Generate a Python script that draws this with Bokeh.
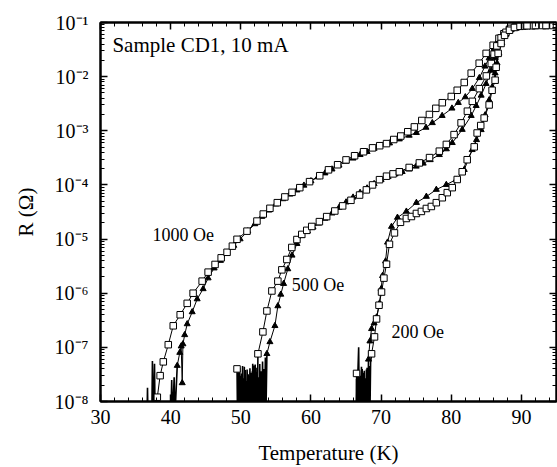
from bokeh.plotting import figure
from bokeh.models import (LogAxis, LinearAxis, SingleIntervalTicker, FixedTicker,
                          CustomJSTickFormatter, Label, Range1d)
from bokeh.embed import file_html
from bokeh.resources import INLINE

# ---------------- data ----------------
# 1000 Oe, open squares
t1000_sq = [36.6, 36.7, 36.8, 37.3, 37.4, 37.5, 37.7, 37.8, 38.1, 38.5, 38.95, 39.66,
            40.37, 41.36, 42.36, 43.2, 44.49, 45.34, 46.33, 47.2, 48.04, 48.8, 49.46,
            50.88, 52.3, 53.2, 54.15, 55.2, 56.28, 57.3, 58.41, 59.8, 61.25, 62.5, 63.8,
            65.0, 66.22, 67.5, 68.78, 69.8, 70.77, 71.8, 72.8, 73.8, 74.74, 75.8, 76.88,
            77.8, 78.72, 80.0, 80.85, 81.85, 82.84, 83.98, 84.97, 85.97, 86.8, 87.5,
            88.3, 89.2, 90.5, 92.0, 93.5, 95.0]
r1000_sq = [3e-9, 1.8e-8, 3e-9, 3e-9, 5.6e-8, 4e-9, 5e-8, 3e-9, 1.2e-8, 3e-8, 5.4e-8, 1.12e-7,
            2.5e-7, 4e-7, 6.5e-7, 1.0e-6, 1.67e-6, 2.45e-6, 3.4e-6, 4.5e-6, 5.7e-6, 7.4e-6, 9.9e-6,
            1.4e-5, 2.15e-5, 2.9e-5, 3.7e-5, 4.7e-5, 6.0e-5, 7.3e-5, 8.9e-5, 1.15e-4, 1.48e-4,
            1.9e-4, 2.36e-4, 2.9e-4, 3.46e-4, 4.1e-4, 4.84e-4, 5.3e-4, 5.8e-4, 6.9e-4, 8.0e-4,
            9.6e-4, 1.18e-3, 1.55e-3, 2.0e-3, 2.6e-3, 3.3e-3, 4.3e-3, 5.6e-3, 7.8e-3, 1.16e-2,
            1.77e-2, 2.69e-2, 3.8e-2, 5.1e-2, 6.2e-2, 7.5e-2, 8.3e-2, 8.7e-2, 8.8e-2, 8.8e-2, 8.8e-2]

# 1000 Oe, filled triangles
t1000_tri = [40.0, 40.15, 40.3, 40.37, 40.5, 40.6, 40.94, 41.3, 41.5, 41.65, 41.75, 42.0,
             42.36, 43.07, 43.78, 44.63, 45.34, 46.2, 47.1, 48.0, 49.0, 49.9, 51.0, 52.0,
             53.0, 54.0, 55.0, 56.0, 57.0, 58.0, 59.0, 60.0, 61.0, 62.0, 63.0, 64.0, 65.0,
             66.0, 67.0, 68.0, 69.0, 69.77, 71.2, 72.6, 74.0, 75.03, 76.4, 77.3, 78.7, 80.1,
             81.0, 82.0, 83.0, 84.0, 84.8, 85.4, 86.1, 86.6, 87.2, 88.0, 88.6, 89.4, 90.3,
             91.5, 93.0, 94.5]
r1000_tri = [3e-9, 2.5e-8, 3e-9, 1.0e-8, 2.8e-8, 5e-9, 4.6e-8, 8e-8, 1.05e-7, 2.2e-8, 1.15e-7,
             1.7e-7, 2.7e-7, 4.5e-7, 7.8e-7, 1.2e-6, 1.9e-6, 2.9e-6, 4.0e-6, 5.4e-6, 7.6e-6,
             1.0e-5, 1.4e-5, 1.9e-5, 2.6e-5, 3.4e-5, 4.4e-5, 5.5e-5, 6.7e-5, 8.0e-5, 9.8e-5,
             1.18e-4, 1.4e-4, 1.65e-4, 1.95e-4, 2.3e-4, 2.7e-4, 3.1e-4, 3.6e-4, 4.1e-4, 4.7e-4,
             5.2e-4, 5.9e-4, 7.0e-4, 8.2e-4, 9.2e-4, 1.15e-3, 1.4e-3, 1.9e-3, 2.6e-3, 3.3e-3,
             4.2e-3, 6.0e-3, 9.5e-3, 1.55e-2, 2.2e-2, 3.3e-2, 4.5e-2, 5.6e-2, 7.0e-2, 7.9e-2,
             8.4e-2, 8.6e-2, 8.7e-2, 8.7e-2, 8.7e-2]

# 500 Oe, open squares
t500_sq = [49.46, 49.55, 49.65, 49.75, 49.85, 49.95, 50.05, 50.15, 50.25, 50.35, 50.45, 50.55,
           50.65, 50.75, 50.85, 50.95, 51.05, 51.15, 51.25, 51.35, 51.45, 51.55, 51.65, 51.75,
           51.85, 51.95, 52.05, 52.15, 52.25, 52.35,
           52.44, 53.15, 53.72, 54.43, 55.28, 55.85, 56.56, 57.27, 58.0, 58.69, 59.4, 60.11,
           61.2, 62.24, 63.4, 64.52, 65.7, 66.93, 67.9, 68.78, 69.77, 70.77, 71.7, 72.6, 74.0,
           75.45, 76.9, 78.3, 79.3, 80.4, 81.4, 82.3, 83.0, 84.0, 85.0, 85.7, 86.1, 86.5, 87.1,
           87.8, 88.5, 89.3, 90.2, 91.5, 93.0, 94.5]
r500_sq = [4.0e-8, 3e-9, 3.5e-8, 4e-9, 4.2e-8, 3e-9, 3.0e-8, 5e-9, 4.5e-8, 3e-9, 2.6e-8, 4e-9,
           3.8e-8, 3e-9, 2.2e-8, 5e-9, 3.2e-8, 3e-9, 1.8e-8, 4e-9, 2.8e-8, 3e-9, 3.6e-8, 4e-9,
           2.5e-8, 3e-9, 4.8e-8, 5e-9, 3.0e-8, 6e-9,
           7.6e-8, 1.93e-7, 4.7e-7, 1.1e-6, 1.67e-6, 2.7e-6, 4.2e-6, 7.0e-6, 9.8e-6, 1.22e-5,
           1.45e-5, 1.71e-5, 2.1e-5, 2.6e-5, 3.3e-5, 4.1e-5, 5.2e-5, 6.5e-5, 8.1e-5, 1.0e-4,
           1.25e-4, 1.45e-4, 1.6e-4, 1.75e-4, 2.1e-4, 2.55e-4, 3.2e-4, 4.2e-4, 5.6e-4, 8.5e-4,
           1.4e-3, 2.3e-3, 3.5e-3, 6.0e-3, 1.03e-2, 1.75e-2, 2.6e-2, 3.7e-2, 5.2e-2, 6.6e-2,
           7.8e-2, 8.4e-2, 8.6e-2, 8.7e-2, 8.8e-2, 8.8e-2]

# 500 Oe, filled triangles
t500_tri = [50.0, 50.1, 50.2, 50.3, 50.4, 50.5, 50.6, 50.7, 50.8, 50.9, 51.0, 51.1, 51.2, 51.3,
            51.4, 51.5, 51.6, 51.7, 51.8, 51.9, 52.0, 52.1, 52.2, 52.3, 52.4, 52.5, 52.6, 52.7,
            52.8, 52.9, 53.0, 53.1, 53.2, 53.3, 53.4, 53.5, 53.6,
            53.72, 54.15, 54.86, 55.28, 55.7, 56.1, 56.7, 57.3, 58.0, 58.7, 59.5, 60.3, 61.1,
            62.0, 63.0, 64.0, 65.0, 66.0, 67.0, 68.0, 69.0, 70.0, 71.0, 72.0, 73.0, 74.0, 75.0,
            76.0, 77.0, 78.3, 79.3, 80.14, 81.56, 82.84, 83.55, 84.26, 84.97, 85.68, 86.25,
            86.53, 87.0, 87.6, 88.3, 89.0, 89.8, 90.8, 92.0, 93.5, 95.0]
r500_tri = [3e-9, 3.3e-8, 4e-9, 2.7e-8, 3e-9, 4.4e-8, 4e-9, 2.4e-8, 3e-9, 3.9e-8, 5e-9, 2.9e-8,
            3e-9, 4.1e-8, 4e-9, 3.4e-8, 3e-9, 5.0e-8, 4e-9, 4.6e-8, 6e-9, 3.5e-8, 5e-9, 4.2e-8,
            3e-9, 2.8e-8, 4e-9, 4.9e-8, 5e-9, 3.6e-8, 4e-9, 5.5e-8, 5e-9, 4.0e-8, 6e-9, 6.5e-8, 8e-9,
            7.6e-8, 1.26e-7, 2.5e-7, 5.8e-7, 9.5e-7, 1.5e-6, 2.8e-6, 5.0e-6, 8.2e-6, 1.15e-5,
            1.4e-5, 1.65e-5, 1.95e-5, 2.4e-5, 3.0e-5, 3.8e-5, 4.8e-5, 5.9e-5, 7.2e-5, 8.7e-5,
            1.05e-4, 1.25e-4, 1.42e-4, 1.58e-4, 1.75e-4, 1.95e-4, 2.2e-4, 2.5e-4, 2.9e-4, 3.6e-4,
            4.6e-4, 6.0e-4, 1.05e-3, 1.9e-3, 2.9e-3, 4.5e-3, 7.4e-3, 1.3e-2, 2.2e-2, 3.0e-2,
            4.4e-2, 5.9e-2, 7.3e-2, 8.0e-2, 8.5e-2, 8.6e-2, 8.7e-2, 8.7e-2, 8.7e-2]

# 200 Oe, open squares
t200_sq = [66.5, 66.6, 66.7, 66.8, 66.9, 67.0, 67.1, 67.2, 67.3, 67.4, 67.5, 67.6, 67.7, 67.8,
           67.9, 68.0, 68.1, 68.2, 68.3, 68.4, 68.5,
           68.64, 69.06, 69.35, 69.7, 70.06, 70.4, 70.77, 71.19, 71.9, 72.76, 73.6,
           74.32, 75.03, 75.74, 76.45, 77.16, 77.87, 78.72, 79.43, 80.14, 80.85, 81.56, 82.27,
           83.27, 83.69, 84.2, 84.69, 85.4, 85.82, 86.25, 86.4, 86.68, 87.1, 87.6, 88.3, 89.0,
           89.8, 90.8, 92.0, 93.5, 95.0]
r200_sq = [3.3e-8, 3e-9, 2.8e-8, 4e-9, 3.6e-8, 3e-9, 3.0e-8, 5e-9, 4.0e-8, 3e-9, 3.4e-8, 4e-9,
           2.7e-8, 3e-9, 3.9e-8, 4e-9, 2.1e-8, 3e-9, 4.5e-8, 5e-9, 5.2e-8,
           7.6e-8, 1.56e-7, 3.35e-7, 6.0e-7, 1.05e-6, 1.9e-6, 3.43e-6, 8.0e-6,
           1.3e-5, 2.04e-5, 2.4e-5, 2.61e-5, 2.97e-5, 3.24e-5, 3.67e-5, 4.0e-5, 4.7e-5, 5.8e-5,
           7.2e-5, 8.9e-5, 1.26e-4, 1.75e-4, 2.92e-4, 5.05e-4, 9.1e-4, 1.25e-3, 1.72e-3, 3.0e-3,
           5.6e-3, 8.6e-3, 1.49e-2, 2.69e-2, 4.1e-2, 5.8e-2, 7.2e-2, 8.1e-2, 8.5e-2, 8.7e-2,
           8.8e-2, 8.8e-2, 8.8e-2]

# 200 Oe, filled triangles
t200_tri = [66.4, 66.5, 66.6, 66.7, 66.8, 66.9, 67.0, 67.1, 67.2, 67.3, 67.4, 67.5, 67.6, 67.7,
            67.8, 67.9, 68.0, 68.1,
            68.2, 68.4, 68.64, 69.0, 69.35, 69.77, 70.0, 70.2, 70.63, 70.91, 71.48, 72.33, 73.6,
            75.03, 76.45, 77.87, 79.29, 80.71, 81.85, 82.98, 83.6, 84.26, 84.83, 85.4, 85.82,
            86.25, 86.53, 86.8, 87.2, 87.8, 88.5, 89.2, 90.0, 91.0, 92.5, 94.0, 95.0]
r200_tri = [3e-9, 2.6e-8, 3e-9, 3.8e-8, 1.0e-7, 4e-9, 2.9e-8, 3e-9, 4.4e-8, 5e-9, 3.1e-8, 3e-9,
            3.7e-8, 4e-9, 2.5e-8, 3e-9, 4.2e-8, 5e-9,
            6e-8, 1.3e-7, 2.2e-7, 2.8e-7, 3.6e-7, 6.5e-7, 1.2e-6, 2.1e-6, 3.9e-6, 8.7e-6, 1.7e-5,
            2.5e-5, 3.24e-5, 4.7e-5, 6.1e-5, 8.2e-5, 1.01e-4, 1.26e-4, 1.91e-4, 4.45e-4, 6.8e-4,
            1.04e-3, 1.95e-3, 3.69e-3, 6.4e-3, 1.16e-2, 1.77e-2, 2.69e-2, 4.2e-2, 6.0e-2, 7.6e-2,
            8.3e-2, 8.6e-2, 8.7e-2, 8.7e-2, 8.7e-2, 8.7e-2]

x_major = [30, 40, 50, 60, 70, 80, 90]
y_decades = [1e-8, 1e-7, 1e-6, 1e-5, 1e-4, 1e-3, 1e-2, 1e-1]

FONT = "Liberation Serif"

# ---------------- figure ----------------
p = figure(width=557, height=467, x_range=Range1d(30, 95), y_range=Range1d(1e-8, 1e-1),
           y_axis_type="log", output_backend="svg", toolbar_location=None,
           min_border_left=100, min_border_right=1, min_border_top=22, min_border_bottom=64)
p.grid.visible = False
p.outline_line_color = "black"
p.outline_line_width = 2
p.background_fill_color = "white"
p.border_fill_color = "white"

xt = SingleIntervalTicker(interval=10, num_minor_ticks=5)
y_minor = [m * d for d in y_decades[:-1] for m in range(2, 10)]
yt = FixedTicker(ticks=y_decades, minor_ticks=y_minor)

sup_code = """
const sup = {'-':'\u207b','0':'\u2070','1':'\u00b9','2':'\u00b2','3':'\u00b3','4':'\u2074',
             '5':'\u2075','6':'\u2076','7':'\u2077','8':'\u2078','9':'\u2079'};
const e = Math.round(Math.log10(tick));
return '10' + String(e).split('').map(c => sup[c]).join('');
"""


def style(ax):
    ax.axis_line_width = 2
    ax.axis_line_color = "black"
    ax.major_tick_in = 7
    ax.major_tick_out = 0
    ax.minor_tick_in = 4
    ax.minor_tick_out = 0
    ax.major_tick_line_width = 1.5
    ax.minor_tick_line_width = 1
    ax.major_tick_line_color = "black"
    ax.minor_tick_line_color = "black"
    ax.major_label_text_font = FONT
    ax.major_label_text_font_size = "20px"
    ax.major_label_text_color = "black"
    ax.axis_label_text_font = FONT
    ax.axis_label_text_font_size = "21px"
    ax.axis_label_text_font_style = "normal"
    ax.axis_label_text_color = "black"


xa = p.xaxis[0]
xa.ticker = xt
style(xa)
xa.major_label_standoff = 8
xa.axis_label = "Temperature (K)"
xa.axis_label_standoff = 14

ya = p.yaxis[0]
ya.ticker = yt
ya.formatter = CustomJSTickFormatter(code=sup_code)
style(ya)
ya.major_label_standoff = 12
ya.axis_label = "R (\u03a9)"
ya.axis_label_standoff = 14

top = LinearAxis(ticker=xt, formatter=CustomJSTickFormatter(code="return ''"))
style(top)
top.major_label_text_font_size = "1px"
top.major_label_standoff = 0
p.add_layout(top, "above")

right = LogAxis(ticker=yt, formatter=CustomJSTickFormatter(code="return ''"))
style(right)
right.major_label_text_font_size = "1px"
right.major_label_standoff = 0
p.add_layout(right, "right")

# (t, r, kind, index where the noisy floor part ends, whether first point gets a marker)
series = [(t1000_tri, r1000_tri, "tri", 6, True), (t1000_sq, r1000_sq, "sq", 8, False),
          (t500_tri, r500_tri, "tri", 37, False), (t500_sq, r500_sq, "sq", 30, True),
          (t200_tri, r200_tri, "tri", 18, False), (t200_sq, r200_sq, "sq", 21, True)]

for t, r, kind, k, first in series:
    # noisy part near the resolution floor: drawn a little heavier, as in the original
    p.line(t[:k + 1], r[:k + 1], line_color="black", line_width=1.6)
    p.line(t[k:], r[k:], line_color="black", line_width=1)


def marks(t, r, k, first):
    xs = ([t[0]] if first else []) + t[k:]
    ys = ([r[0]] if first else []) + r[k:]
    return xs, ys


for t, r, kind, k, first in series:
    if kind == "tri":
        xs, ys = marks(t, r, k, first)
        p.scatter(xs, ys, marker="triangle", size=6, fill_color="black", line_color="black")
for t, r, kind, k, first in series:
    if kind == "sq":
        xs, ys = marks(t, r, k, first)
        p.scatter(xs, ys, marker="square", size=6.5, fill_color="white", line_color="black",
                  line_width=1)

for x, y, txt, fs in [(31.7, 0.038, "Sample CD1, 10 mA", "21px"),
                      (37.4, 1.17e-5, "1000 Oe", "18px"),
                      (57.27, 1.44e-6, "500 Oe", "18px"),
                      (71.48, 1.9e-7, "200 Oe", "18px")]:
    p.add_layout(Label(x=x, y=y, text=txt, text_font=FONT, text_font_size=fs,
                       text_baseline="middle", text_align="left", text_color="black"))

open("out.html", "w").write(file_html(p, INLINE))
